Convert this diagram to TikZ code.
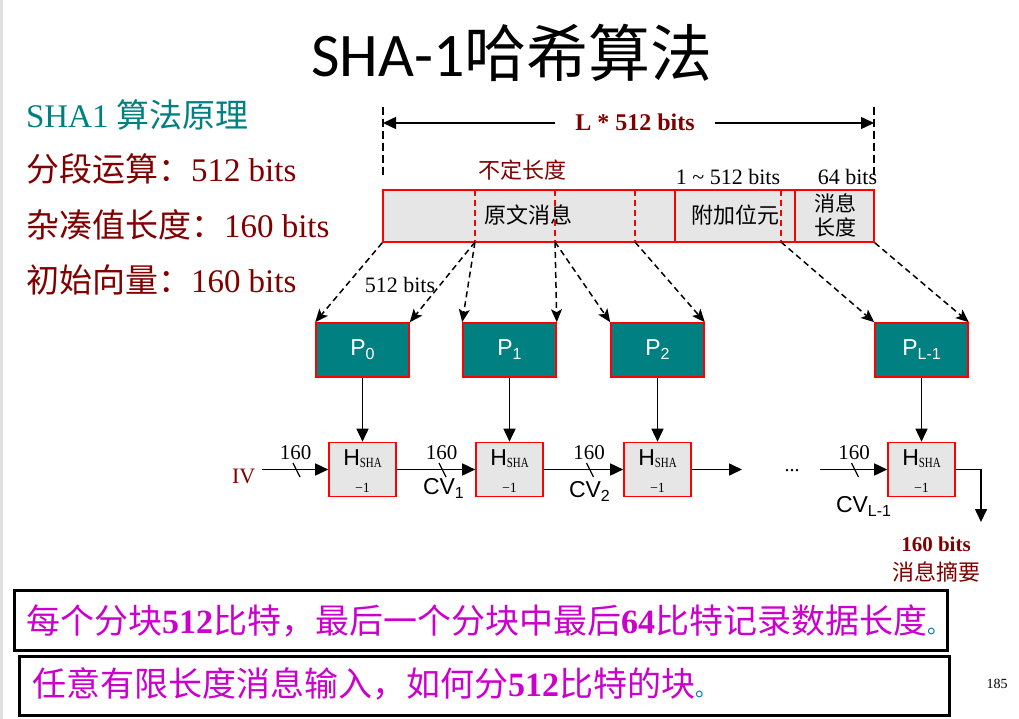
\documentclass[tikz,border=0pt]{standalone}
\usepackage{fontspec}
\setmainfont{Liberation Serif}
\setsansfont{Liberation Sans}
\newfontfamily\cjk{Noto Sans CJK SC}
\newfontfamily\titlefont{Carlito}
\usetikzlibrary{arrows.meta,calc}

\definecolor{darkred}{RGB}{128,0,0}
\definecolor{tealc}{RGB}{0,128,128}
\definecolor{magentac}{RGB}{204,0,204}
\definecolor{cellgray}{RGB}{230,230,230}
\definecolor{dotblue}{RGB}{0,120,170}

\newcommand{\fsz}[1]{\fontsize{#1}{#1}\selectfont}

\tikzset{
  txt/.style={inner sep=0pt, outer sep=0pt},
  pbox/.style={draw=red, fill=tealc, line width=1.6pt, minimum width=93pt,
    minimum height=54pt, inner sep=0pt, text=white, font=\sffamily},
  hbox/.style={draw=red, fill=cellgray, line width=1.6pt, minimum width=67pt,
    minimum height=54pt, inner sep=0pt},
  flow/.style={line width=1.6pt, -{Triangle[length=13pt,width=12pt]}},
  split/.style={line width=1.5pt, dash pattern=on 6pt off 4pt,
    -{Stealth[length=13pt,width=11pt,inset=3pt]}},
  tick/.style={line width=1.3pt},
  divider/.style={red, line width=1.6pt, dash pattern=on 6pt off 4pt},
  notebox/.style={draw=black, line width=3pt, inner sep=0pt, anchor=north west},
}

\begin{document}
\begin{tikzpicture}[x=1pt, y=-1pt]
\useasboundingbox (0,0) rectangle (1019,719);
\fill[white] (0,0) rectangle (1019,719);
\fill[black!12] (0,0) rectangle (2.5,719);

% heading
\node[txt, anchor=base] (title) at (512,77) {\titlefont\fsz{62}SHA-1{\cjk 哈希算法}};

% summary lines on the left
\node[txt, anchor=base west, text=tealc] (s0) at (26,128) {\fsz{33}SHA1 {\cjk 算法原理}};
\node[txt, anchor=base west, text=darkred] (s1) at (26,182) {\fsz{33}{\cjk 分段运算：}512 bits};
\node[txt, anchor=base west, text=darkred] (s2) at (26,237) {\fsz{33}{\cjk 杂凑值长度：}160 bits};
\node[txt, anchor=base west, text=darkred] (s3) at (26,292) {\fsz{33}{\cjk 初始向量：}160 bits};

% total length marker
\coordinate (vl0) at (383,107);
\coordinate (vl1) at (383,178);
\coordinate (vr0) at (874,107);
\coordinate (vr1) at (874,178);
\draw[line width=1.2pt, dash pattern=on 8pt off 4pt] (vl0) -- (vl1);
\draw[line width=1.2pt, dash pattern=on 8pt off 4pt] (vr0) -- (vr1);
\node[txt, anchor=base, text=darkred] (total) at (635,131) {\fsz{24}\bfseries L * 512 bits};
\coordinate (tl) at (383,123);
\coordinate (tr) at (874,123);
\draw[flow, line width=1.4pt] (total.west |- tl) ++(-20,0) -- (tl);
\draw[flow, line width=1.4pt] (total.east |- tr) ++(20,0) -- (tr);

% padded message bar
\node[draw=red, fill=cellgray, line width=1.6pt, minimum width=491pt,
  minimum height=52pt, inner sep=0pt] (bar) at (628.5,216) {};
\foreach \x/\n in {475/a,555/b,635/c,781/d}{
  \coordinate (\n t) at (\x,190);
  \coordinate (\n b) at (\x,242);
  \draw[divider] (\n t) -- (\n b);
}
\coordinate (et) at (675,190); \coordinate (eb) at (675,242);
\coordinate (ft) at (795,190); \coordinate (fb) at (795,242);
\draw[red, line width=1.6pt] (et) -- (eb);
\draw[red, line width=1.6pt] (ft) -- (fb);

\node[txt, text=darkred] (undef) at (522.5,170) {\fsz{22}\cjk 不定长度};
\node[txt, anchor=base] (padlen) at (728,185) {\fsz{22}1 \textasciitilde{} 512 bits};
\node[txt, anchor=base] (lenlen) at (847.5,185) {\fsz{22}64 bits};
\node[txt] (msg) at (528,215) {\fsz{22}\cjk 原文消息};
\node[txt] (pad) at (735,215) {\fsz{22}\cjk 附加位元};
\node[txt, align=center, font=\fontsize{21}{24}\selectfont\cjk] (len) at (835,215) {消息\\长度};

% 512-bit blocks
\node[pbox] (P0) at (362.5,350) {{\fsz{23}P}{\fsz{16}\raisebox{-4pt}{0}}};
\node[pbox] (P1) at (509.5,350) {{\fsz{23}P}{\fsz{16}\raisebox{-4pt}{1}}};
\node[pbox] (P2) at (657.5,350) {{\fsz{23}P}{\fsz{16}\raisebox{-4pt}{2}}};
\node[pbox] (PL) at (921.5,350) {{\fsz{23}P}{\fsz{16}\raisebox{-4pt}{L-1}}};

\draw[split] (bar.south west) -- (P0.north west);
\draw[split] (ab) -- (P0.north east);
\draw[split] (ab) -- (P1.north west);
\draw[split] (bb) -- (P1.north east);
\draw[split] (bb) -- (P2.north west);
\draw[split] (cb) -- (P2.north east);
\draw[split] (db) -- (PL.north west);
\draw[split] (bar.south east) -- (PL.north east);
\node[txt] (blk) at (400,285) {\fsz{22}512 bits};

% compression stages
\foreach \n/\x in {0/362.5,1/509.5,2/657.5,L/921.5}{
  \node[hbox] (H\n) at (\x,469.5) {};
  \node[txt, anchor=base] (Hl\n) at (\x,465) {{\sffamily\fsz{23}H}{\fsz{14}\raisebox{-2.5pt}{\scalebox{0.78}[1]{SHA}}}};
  \node[txt] (Hm\n) at (\x,488) {\fsz{14}−1};
  \draw[flow] (P\n.south) -- (H\n.north);
}

\node[txt, anchor=base west, text=darkred] (IV) at (232,483) {\fsz{22}IV};
\coordinate (ivs) at (262,469.5);
\coordinate (h2out) at (742,469.5);
\coordinate (hlin) at (820,469.5);
\coordinate (corner) at (981,469.5);
\coordinate (digest) at (981,522);
\draw[flow] (ivs) -- (H0.west);
\draw[flow] (H0.east) -- (H1.west);
\draw[flow] (H1.east) -- (H2.west);
\draw[flow] (H2.east) -- (h2out);
\draw[flow] (hlin) -- (HL.west);
\draw[flow] (HL.east) -- (corner) -- (digest);

\foreach \x in {296.5,442.5,590,855}{
  \draw[tick] (\x-3.5,463) -- (\x+3.5,477);
  \node[txt, anchor=base] at (\x-1,459) {\fsz{21}160};
}
\node[txt] (dots) at (792,471) {\fsz{20}...};

\node[txt, anchor=base west] (cv1) at (423,494) {\sffamily{\fsz{23}CV}{\fsz{16}\raisebox{-4pt}{1}}};
\node[txt, anchor=base west] (cv2) at (569,497) {\sffamily{\fsz{23}CV}{\fsz{16}\raisebox{-4pt}{2}}};
\node[txt, anchor=base west] (cvl) at (836,512) {\sffamily{\fsz{23}CV}{\fsz{16}\raisebox{-4pt}{L-1}}};

\node[txt, anchor=base, text=darkred] (dbits) at (936,551) {\fsz{21}\bfseries 160 bits};
\node[txt, text=darkred] (dname) at (936,572) {\fsz{22}\cjk 消息摘要};

% notes
\node[notebox, minimum width=933pt, minimum height=60pt] (note1) at (13,589) {};
\node[txt, anchor=west, text=magentac] at (26,621)
  {\fsz{34}{\cjk 每个分块}\textbf{512}{\cjk 比特，最后一个分块中最后}\textbf{64}{\cjk 比特记录数据长度}{\fsz{22}\color{dotblue}\cjk 。}};
\node[notebox, minimum width=930pt, minimum height=59pt] (note2) at (18,655) {};
\node[txt, anchor=west, text=magentac] at (32,684)
  {\fsz{34}{\cjk 任意有限长度消息输入，如何分}\textbf{512}{\cjk 比特的块}{\fsz{22}\color{dotblue}\cjk 。}};

\node[txt] (page) at (997,684) {\fsz{14}185};
\end{tikzpicture}
\end{document}
